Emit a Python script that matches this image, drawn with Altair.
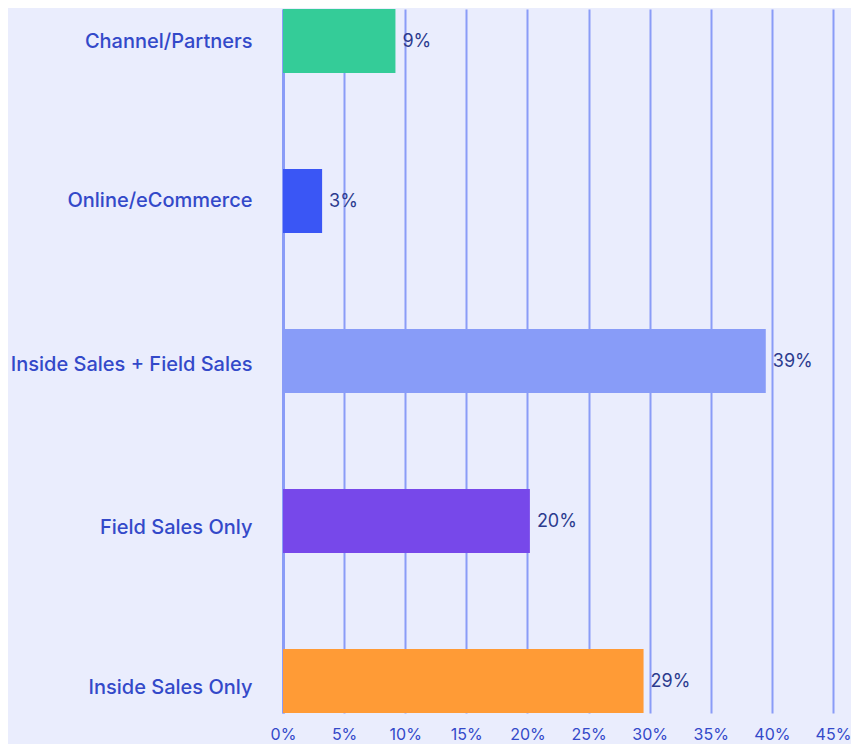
import altair as alt
import pandas as pd

categories = ["Channel/Partners", "Online/eCommerce", "Inside Sales + Field Sales", "Field Sales Only", "Inside Sales Only"]
values = [9.2, 3.2, 39.5, 20.2, 29.5]
labels = ["9%", "3%", "39%", "20%", "29%"]
colors = ["#34cc98", "#3a56f5", "#889cf8", "#7748ea", "#ff9b36"]
tick_values = [0, 5, 10, 15, 20, 25, 30, 35, 40, 45]

df = pd.DataFrame({"cat": categories, "val": values, "label": labels, "color": colors})

label_offset = {
    "condition": [
        {"test": "datum.value == 'Field Sales Only' || datum.value == 'Inside Sales Only'", "value": 7},
        {"test": "datum.value == 'Inside Sales + Field Sales'", "value": 4},
        {"test": "datum.value == 'Channel/Partners'", "value": 1},
    ],
    "value": 0,
}

y = alt.Y("cat:N", sort=categories, title=None,
          scale=alt.Scale(paddingInner=0.6, paddingOuter=0),
          axis=alt.Axis(labelFont="Inter", labelFontSize=20, labelFontWeight=500,
                        labelColor="#3349c9", labelPadding=31, ticks=False, labelLimit=0,
                        labelOffset=label_offset,
                        domain=True, domainColor="#8a9cf7", domainWidth=3, grid=False))
x = alt.X("val:Q", title=None,
          scale=alt.Scale(domain=[0, 45], nice=False),
          axis=alt.Axis(values=tick_values,
                        labelExpr="datum.value + '%'",
                        labelFont="Inter", labelFontSize=16, labelColor="#3349c9",
                        labelPadding=13, labelFlush=False, labelOverlap=False, labelBound=False,
                        ticks=False, domain=False,
                        grid=True, gridColor="#8a9cf7", gridWidth=2))

bars = alt.Chart(df).mark_bar().encode(x=x, y=y, color=alt.Color("color:N", scale=None))
text = alt.Chart(df).mark_text(align="left", baseline="middle", dx=7, dy=1, font="Inter",
                               fontSize=18, color="#2c3b8e").encode(
    x="val:Q", y=alt.Y("cat:N", sort=categories), text="label:N")

chart = (bars + text).properties(
    width=550, height=704, background="#eaedfd",
    padding={"left": 275, "top": 1, "right": 18, "bottom": 31},
    autosize=alt.AutoSizeParams(type="none"),
).configure_view(stroke=None)

chart.save("out.html", embed_options={"renderer": "svg", "actions": False})
